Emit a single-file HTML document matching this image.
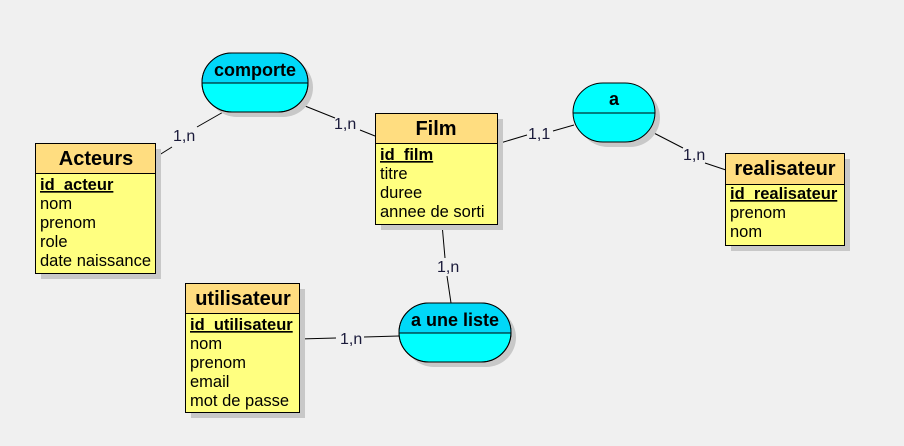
<!DOCTYPE html>
<html><head><meta charset="utf-8"><style>
html,body{margin:0;padding:0;background:#f0f0f0;}
svg{display:block;}
text{font-family:"Liberation Sans",Arial,sans-serif;fill:#000;}
.t{font-weight:bold;font-size:20px;text-anchor:middle;}
.a{font-size:16.5px;}
.k{font-size:16.5px;font-weight:bold;text-decoration:underline;}
.c{font-size:16px;fill:#1a1a3a;}
.at{font-weight:bold;font-size:18px;text-anchor:middle;}
</style></head><body>
<svg width="904" height="446" viewBox="0 0 904 446" xmlns="http://www.w3.org/2000/svg">
<rect width="904" height="446" fill="#f0f0f0"/>
<g stroke="#000" stroke-width="1">
<line x1="225" y1="111" x2="197" y2="127"/><line x1="172" y1="147" x2="156" y2="157"/>
<line x1="300" y1="104" x2="335" y2="118"/><line x1="360" y1="130" x2="375" y2="136"/>
<line x1="497" y1="144" x2="527" y2="135"/><line x1="553" y1="131" x2="574" y2="125"/>
<line x1="650" y1="131" x2="683" y2="148"/><line x1="705" y1="163" x2="726" y2="170"/>
<line x1="442" y1="224" x2="445" y2="258"/><line x1="447" y1="276" x2="451" y2="303"/>
<line x1="299" y1="339" x2="336" y2="338"/><line x1="364" y1="337" x2="399" y2="336"/>
</g>
<text class="c" x="173" y="141">1,n</text>
<text class="c" x="334" y="129">1,n</text>
<text class="c" x="528" y="139">1,1</text>
<text class="c" x="683" y="160">1,n</text>
<text class="c" x="437" y="272">1,n</text>
<text class="c" x="340" y="344">1,n</text>

<g>
<rect x="207" y="58" width="106" height="59" rx="30" fill="#c8c8c8"/>
<rect x="202" y="53" width="106" height="59" rx="30" fill="#00ffff" stroke="#000"/>
<path d="M202.5 83 V82 a29.5 29.5 0 0 1 29.5 -29 h46 a29.5 29.5 0 0 1 29.5 29 V83 Z" fill="#00d8f8"/>
<rect x="202" y="53" width="106" height="59" rx="30" fill="none" stroke="#000"/>
<line x1="202" y1="83" x2="308" y2="83" stroke="#000"/>
<text class="at" x="255" y="76">comporte</text>
</g>
<g>
<rect x="578" y="88" width="82" height="59" rx="30" fill="#c8c8c8"/>
<rect x="573" y="83" width="82" height="59" rx="30" fill="#00ffff" stroke="#000"/>
<line x1="573" y1="113" x2="655" y2="113" stroke="#000"/>
<text class="at" x="614" y="105">a</text>
</g>
<g>
<rect x="404" y="308" width="112" height="59" rx="30" fill="#c8c8c8"/>
<rect x="399" y="303" width="112" height="59" rx="30" fill="#00ffff" stroke="#000"/>
<path d="M399.5 333 a29.5 29.5 0 0 1 29.5 -29.5 h53 a29.5 29.5 0 0 1 29.5 29.5 Z" fill="#00d8f8"/>
<rect x="399" y="303" width="112" height="59" rx="30" fill="none" stroke="#000"/>
<line x1="399" y1="333" x2="511" y2="333" stroke="#000"/>
<text class="at" x="455" y="326">a une liste</text>
</g>

<g>
<rect x="41" y="149" width="120" height="130" fill="#c8c8c8"/>
<rect x="35.5" y="143.5" width="120" height="130" fill="#ffff80" stroke="#000"/>
<rect x="35.5" y="143.5" width="120" height="30" fill="#ffdd80" stroke="#000"/>
<text class="t" x="96" y="165">Acteurs</text>
<text class="k" x="40" y="190">id_acteur</text>
<text class="a" x="40" y="209">nom</text>
<text class="a" x="40" y="228">prenom</text>
<text class="a" x="40" y="247">role</text>
<text class="a" x="40" y="266">date naissance</text>
</g>
<g>
<rect x="381" y="119" width="122" height="111" fill="#c8c8c8"/>
<rect x="375.5" y="113.5" width="122" height="111" fill="#ffff80" stroke="#000"/>
<rect x="375.5" y="113.5" width="122" height="30" fill="#ffdd80" stroke="#000"/>
<text class="t" x="436" y="135">Film</text>
<text class="k" x="380" y="160">id_film</text>
<text class="a" x="380" y="179">titre</text>
<text class="a" x="380" y="198">duree</text>
<text class="a" x="380" y="217">annee de sorti</text>
</g>
<g>
<rect x="731" y="159" width="119" height="92" fill="#c8c8c8"/>
<rect x="725.5" y="153.5" width="119" height="92" fill="#ffff80" stroke="#000"/>
<rect x="725.5" y="153.5" width="119" height="31" fill="#ffdd80" stroke="#000"/>
<text class="t" x="785" y="175">realisateur</text>
<text class="k" x="730" y="199">id_realisateur</text>
<text class="a" x="730" y="218">prenom</text>
<text class="a" x="730" y="237">nom</text>
</g>
<g>
<rect x="191" y="289" width="114" height="129" fill="#c8c8c8"/>
<rect x="185.5" y="283.5" width="114" height="129" fill="#ffff80" stroke="#000"/>
<rect x="185.5" y="283.5" width="114" height="30" fill="#ffdd80" stroke="#000"/>
<text class="t" x="243" y="305">utilisateur</text>
<text class="k" x="190" y="330">id_utilisateur</text>
<text class="a" x="190" y="349">nom</text>
<text class="a" x="190" y="368">prenom</text>
<text class="a" x="190" y="387">email</text>
<text class="a" x="190" y="406">mot de passe</text>
</g>
</svg>
</body></html>
